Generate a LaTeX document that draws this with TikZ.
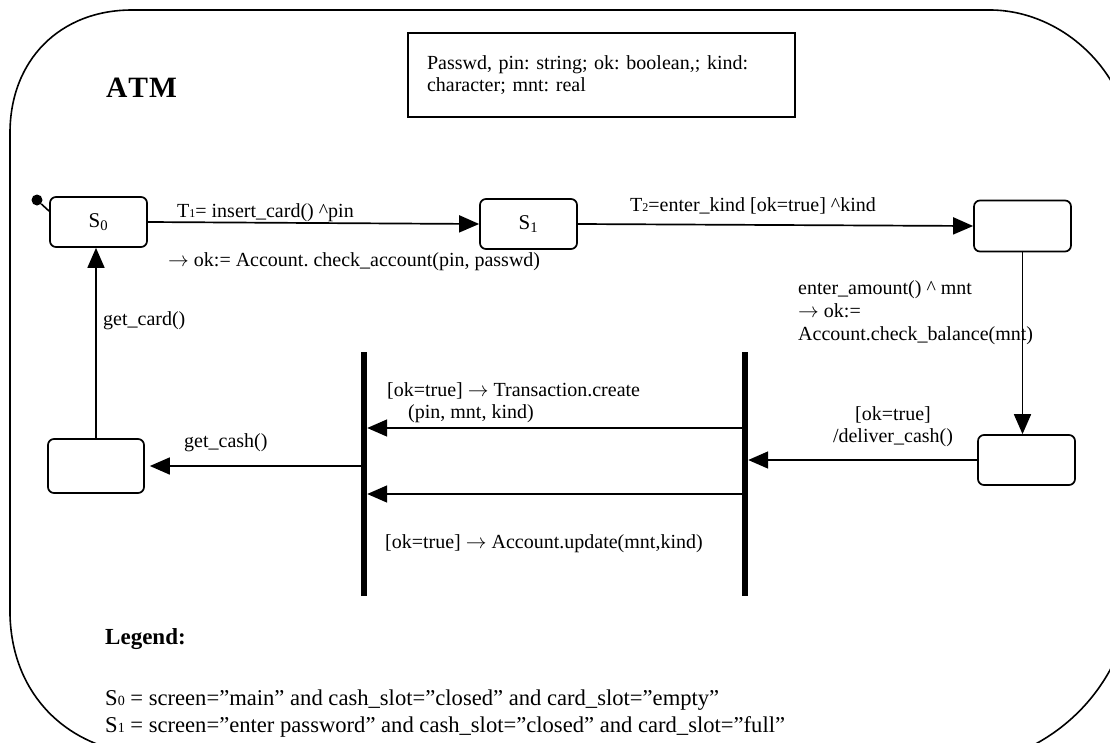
\documentclass[tikz,border=0pt]{standalone}
\usepackage{fontspec}
\setmainfont{Liberation Serif}
\usetikzlibrary{arrows.meta}
\frenchspacing
\begin{document}
\begin{tikzpicture}[x=1pt,y=-1pt,
  state/.style={draw,line width=1.7pt,rounded corners=6pt,minimum width=97pt,minimum height=50pt,inner sep=0pt,font=\fontsize{21}{24}\selectfont},
  arr/.style={line width=1.7pt,-{Triangle[length=20pt,width=17pt]}},
  lbl/.style={inner sep=0pt,anchor=base west,font=\fontsize{20}{23}\selectfont},
  leg/.style={inner sep=0pt,anchor=base west,font=\fontsize{22.6}{26}\selectfont},
  bar/.style={fill=black,inner sep=0pt,minimum width=6pt,minimum height=244pt},
  declbox/.style={draw,line width=1.6pt,text width=349pt,inner xsep=19pt,inner ysep=0pt,minimum height=84pt,align=left,font=\fontsize{20}{22}\selectfont}]
\useasboundingbox (0,0) rectangle (1110,742);
\begin{scope}
\clip (0,0) rectangle (1110,742);
\draw[line width=1.6pt] (10,615) -- (10,133) .. controls (10,60) and (60,10) .. (132,10) -- (990,10) .. controls (1060,10) and (1135,70) .. (1135,170) -- (1135,570) .. controls (1135,670) and (1070,748) .. (975,765) -- (125,752) .. controls (60,740) and (12,690) .. (10,615) -- cycle;
\end{scope}

% title and declarations
\node[inner sep=0pt,anchor=base west,font=\fontsize{29.5}{32}\selectfont\bfseries] (title) at (106,97) {A\kern1pt T\kern1pt M};
\node[declbox] (decl) at (601.5,75) {Passwd, pin: string; ok: boolean,; kind:\\character; mnt: real};

% states
\node[state] (s0) at (98.5,222) {S\textsubscript{0}};
\node[state] (s1) at (528.5,224) {S\textsubscript{1}};
\node[state,minimum height=51pt] (s2) at (1022.5,226) {};
\node[state] (s3) at (1026.5,460) {};
\node[state,minimum width=96pt,minimum height=54pt] (s4) at (96,466) {};
\node[circle,fill=black,inner sep=0pt,minimum size=11pt] (init) at (37,200) {};

% fork bars
\node[bar] (b1) at (364,474) {};
\node[bar] (b2) at (745,474) {};

% connectors
\draw[line width=1.6pt] (init) -- ([yshift=-15pt]s0.north west);
\draw[arr] (s0.east) -- (s1.west);
\draw[arr] (s1.east) -- (s2.west);
\draw[arr] (s2.south) -- (s2.south |- s3.north);
\draw[arr] (s3.west) -- (s3.west -| b2.east);
\draw[arr] ([yshift=46pt]b2.west) -- ([yshift=46pt]b1.east);
\draw[arr] ([yshift=-20pt]b2.west) -- ([yshift=-20pt]b1.east);
\draw[arr] (b1.west |- s4.east) -- ([xshift=5pt]s4.east);
\draw[arr] (s4.north) -- (s4.north |- s0.south);

% labels
\node[lbl] (l1) at (177,217) {T{\fontsize{12}{12}\selectfont 1}= insert\_card() \textasciicircum pin};
\node[lbl] (l1b) at (168,266) {$\rightarrow$ ok:= Account. check\_account(pin, passwd)};
\node[lbl] (l2) at (630,211) {T{\fontsize{12}{12}\selectfont 2}=enter\_kind [ok=true] \textasciicircum kind};
\node[lbl] (l3a) at (798,294) {enter\_amount() \textasciicircum\ mnt};
\node[lbl] (l3b) at (798,317) {$\rightarrow$ ok:=};
\node[lbl] (l3c) at (798,340) {Account.check\_balance(mnt)};
\node[lbl,anchor=base] (l4a) at (893,420) {[ok=true]};
\node[lbl,anchor=base] (l4b) at (893,442) {/deliver\_cash()};
\node[lbl] (l5a) at (387,396) {[ok=true] $\rightarrow$ Transaction.create};
\node[lbl] (l5b) at (408,418) {(pin, mnt, kind)};
\node[lbl] (l6) at (385,548) {[ok=true] $\rightarrow$ Account.update(mnt,kind)};
\node[lbl] (l7) at (184,447) {get\_cash()};
\node[lbl] (l8) at (103,325) {get\_card()};

% legend
\node[inner sep=0pt,anchor=base west,font=\fontsize{23}{26}\selectfont\bfseries] (legt) at (105,644) {Legend:};
\node[leg] (lg1) at (105,705) {S{\fontsize{14}{14}\selectfont 0} = screen=”main” and cash\_slot=”closed” and card\_slot=”empty”};
\node[leg] (lg2) at (105,732) {S{\fontsize{14}{14}\selectfont 1} = screen=”enter password” and cash\_slot=”closed” and card\_slot=”full”};
\end{tikzpicture}
\end{document}
